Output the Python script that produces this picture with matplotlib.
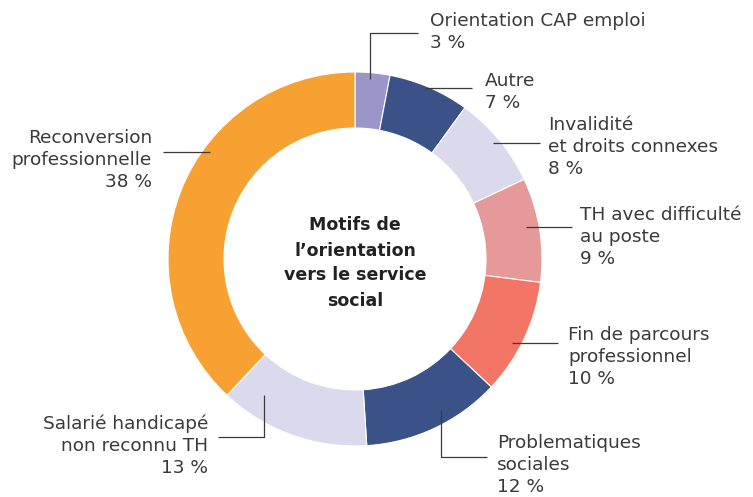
import matplotlib
matplotlib.use("Agg")
import matplotlib.pyplot as plt

# ---- data ----
categories = ["Orientation CAP emploi", "Autre", "Invalidité\net droits connexes",
              "TH avec difficulté\nau poste", "Fin de parcours\nprofessionnel",
              "Problematiques\nsociales", "Salarié handicapé\nnon reconnu TH",
              "Reconversion\nprofessionnelle"]
values = [3, 7, 8, 9, 10, 12, 13, 38]
colors = ["#9c96c8", "#3b5288", "#dbdaed", "#e59a99", "#f27566",
          "#3b5288", "#dbdaed", "#f6a132"]
center_title = "Motifs de\nl’orientation\nvers le service\nsocial"

W, H = 753, 497
fig = plt.figure(figsize=(W / 100, H / 100), dpi=100)
ax = fig.add_axes([0, 0, 1, 1])

cx, cy = 355, H - 259
R, ring = 187, 56
ax.pie(values, colors=colors, startangle=90, counterclock=False,
       center=(cx, cy), radius=R, frame=True,
       wedgeprops=dict(width=ring, edgecolor="white", linewidth=0.8))
ax.set_xlim(0, W)
ax.set_ylim(0, H)
ax.set_aspect("equal")
ax.axis("off")

ax.text(cx, H - 263, center_title, ha="center", va="center", fontsize=12.5,
        fontweight="bold", color="#222222", linespacing=1.5, family="DejaVu Sans")

# leader lines (pixel coords, y from top) and label anchors
layout = [
    ([(370, 79), (370, 33), (418, 33)], (430, 32), "left"),
    ([(425, 88), (472, 88)], (485, 92), "left"),
    ([(493, 143), (540, 143)], (548, 147), "left"),
    ([(526, 227), (572, 227)], (580, 237), "left"),
    ([(512, 343), (558, 343)], (568, 357), "left"),
    ([(441, 410), (441, 457), (487, 457)], (497, 465), "left"),
    ([(264, 395), (264, 437), (218, 437)], (208, 446), "right"),
    ([(210, 152), (163, 152)], (152, 160), "right"),
]
for (pts, (tx, ty), ha), cat, v in zip(layout, categories, values):
    xs = [p[0] for p in pts]
    ys = [H - p[1] for p in pts]
    ax.plot(xs, ys, color="#3a3a3a", linewidth=0.9, solid_capstyle="butt")
    ax.text(tx, H - ty, f"{cat}\n{v} %", ha=ha, va="center", fontsize=13.3,
            color="#3a3a3a", linespacing=1.27, family="DejaVu Sans",
            multialignment=ha)

fig.savefig("out.png", dpi=100)
